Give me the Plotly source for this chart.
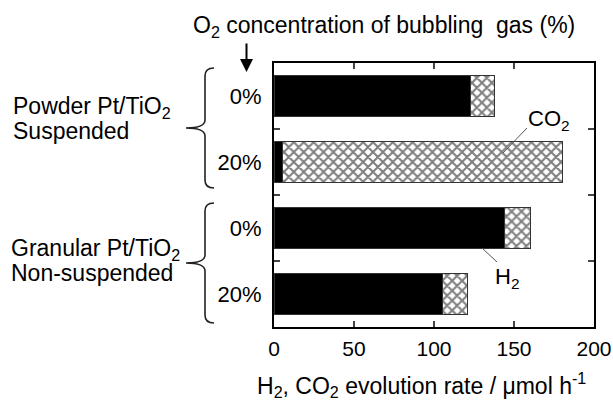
import plotly.graph_objects as go

# Data
rows = [0, 1, 2, 3]
row_labels = ["0%", "20%", "0%", "20%"]
h2_rate = [123, 5, 144, 105]
co2_rate = [15, 175, 16, 16]
group_lines = [["Powder Pt/TiO<sub>2</sub>", "Suspended"],
               ["Granular Pt/TiO<sub>2</sub>", "Non-suspended"]]
x_ticks = [0, 50, 100, 150, 200]

W, H = 613, 400
L, R, T, B = 274, 19, 63, 73
PW, PH = W - L - R, H - T - B

def px(x):
    return (x - L) / PW

def py(y):
    return (H - B - y) / PH

FONT = "Arial, Liberation Sans, sans-serif"
FS = 22
GS = 23

fig = go.Figure()
fig.add_trace(go.Bar(
    y=rows, x=h2_rate, orientation="h", width=0.62,
    marker=dict(color="black", line=dict(color="#333333", width=1)),
    name="H2", showlegend=False,
))
fig.add_trace(go.Bar(
    y=rows, x=co2_rate, orientation="h", width=0.62,
    marker=dict(color="white", line=dict(color="#333333", width=1),
                pattern=dict(shape="x", fgcolor="black", bgcolor="white", size=7, solidity=0.5)),
    name="CO2", showlegend=False,
))
# invisible trace to activate second y axis for boundary ticks
fig.add_trace(go.Scatter(x=[None], y=[None], yaxis="y2", showlegend=False))

fig.update_layout(
    barmode="stack",
    width=W, height=H,
    margin=dict(l=L, r=R, t=T, b=B, autoexpand=False),
    paper_bgcolor="white", plot_bgcolor="white",
    font=dict(family=FONT, size=FS, color="black"),
    xaxis=dict(range=[0, 200], tickvals=x_ticks, ticks="inside", ticklen=6, tickwidth=2,
               showline=True, linecolor="black", linewidth=2, mirror="ticks", automargin=False,
               showgrid=False, zeroline=False, tickfont=dict(size=21), ticklabelstandoff=2),
    yaxis=dict(range=[3.5, -0.5], tickvals=rows, ticktext=row_labels, ticks="", automargin=False,
               showline=True, linecolor="black", linewidth=2, mirror=True,
               showgrid=False, zeroline=False, tickfont=dict(size=FS), ticklabelstandoff=6),
    yaxis2=dict(range=[3.5, -0.5], overlaying="y", matches="y", tickvals=[0.5, 1.5, 2.5],
                ticks="inside", ticklen=6, tickwidth=2, showticklabels=False, automargin=False,
                showline=False, showgrid=False, zeroline=False, mirror="ticks", side="left"),
)

shapes = []
def brace(top, bot, xr=214, xi=205, xp=186, r=8):
    mid = (top + bot) / 2
    pts = (f"M {px(xr)},{py(top)} Q {px(xi)},{py(top)} {px(xi)},{py(top + r)} "
           f"L {px(xi)},{py(mid - r)} Q {px(xi)},{py(mid)} {px(xp)},{py(mid)} "
           f"Q {px(xi)},{py(mid)} {px(xi)},{py(mid + r)} "
           f"L {px(xi)},{py(bot - r)} Q {px(xi)},{py(bot)} {px(xr)},{py(bot)}")
    return dict(type="path", path=pts, xref="paper", yref="paper",
                line=dict(color="#222222", width=1.6))

shapes.append(brace(68, 188))
shapes.append(brace(203, 323))
# leader lines
shapes.append(dict(type="line", xref="paper", yref="paper", x0=px(527), y0=py(128), x1=px(503), y1=py(153),
                   line=dict(color="#555555", width=1)))
shapes.append(dict(type="line", xref="paper", yref="paper", x0=px(482), y0=py(248), x1=px(497), y1=py(262),
                   line=dict(color="#555555", width=1)))
fig.update_layout(shapes=shapes)

ann = []
ann.append(dict(text="O<sub>2</sub> concentration of bubbling  gas (%)", xref="paper", yref="paper",
                x=px(384), y=py(26), showarrow=False, font=dict(size=23), xanchor="center", yanchor="middle"))
ann.append(dict(text="", xref="paper", yref="paper", x=px(246.5), y=py(72), ax=0, ay=-30,
                axref="pixel", ayref="pixel", showarrow=True, arrowhead=2, arrowsize=1.3, arrowwidth=2,
                arrowcolor="black"))
ann.append(dict(text=group_lines[0][0], xref="paper", yref="paper", x=px(11), y=py(108), showarrow=False,
                xanchor="left", yanchor="middle", align="left", font=dict(size=GS)))
ann.append(dict(text=group_lines[0][1], xref="paper", yref="paper", x=px(11), y=py(131), showarrow=False,
                xanchor="left", yanchor="middle", align="left", font=dict(size=GS)))
ann.append(dict(text=group_lines[1][0], xref="paper", yref="paper", x=px(9), y=py(250), showarrow=False,
                xanchor="left", yanchor="middle", align="left", font=dict(size=GS)))
ann.append(dict(text=group_lines[1][1], xref="paper", yref="paper", x=px(9), y=py(273), showarrow=False,
                xanchor="left", yanchor="middle", align="left", font=dict(size=GS)))
ann.append(dict(text="CO<sub>2</sub>", xref="paper", yref="paper", x=px(549), y=py(120), showarrow=False,
                xanchor="center", yanchor="middle", font=dict(size=FS)))
ann.append(dict(text="H<sub>2</sub>", xref="paper", yref="paper", x=px(507), y=py(278), showarrow=False,
                xanchor="center", yanchor="middle", font=dict(size=FS)))
ann.append(dict(text="H<sub>2</sub>, CO<sub>2</sub> evolution rate / μmol h<sup>-1</sup>",
                xref="paper", yref="paper", x=px(421), y=py(385), showarrow=False,
                xanchor="center", yanchor="middle", font=dict(size=23)))
fig.update_layout(annotations=ann)

fig.write_html("out.html", config={"displayModeBar": False},
               post_script="document.body.style.margin='0';")
